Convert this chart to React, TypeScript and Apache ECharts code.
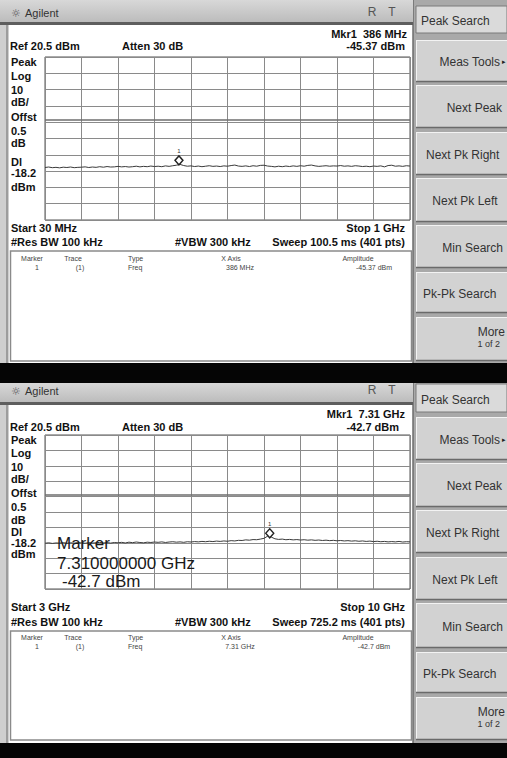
import React, { useEffect, useRef } from "react";
import * as echarts from "echarts";

// ---------- data ----------
const topSpanMHz = [30, 1000];
const bottomSpanGHz = [3, 10];
const refLevelDbm = 20.5;
const bottomLevelDbm = -79.5;
const displayLineDbm = -18.2;
const topMarker = [386, -45.37];
const bottomMarker = [7.31, -42.7];

const topTraceDbm = [
  -47.3, -47.0, -47.4, -47.2, -47.5, -47.1, -47.3, -47.0, -47.4, -47.2,
  -47.1, -46.9, -47.3, -47.0, -47.2, -46.8, -47.1, -46.7, -47.0, -46.9,
  -46.6, -46.9, -46.7, -47.0, -46.8, -46.5, -46.9, -46.6, -46.8, -46.4,
  -46.7, -46.5, -46.8, -46.3, -46.6, -46.2, -45.9, -45.4, -46.1, -46.5,
  -46.3, -46.7, -46.4, -46.8, -46.5, -46.2, -46.6, -46.4, -46.7, -46.3,
  -46.5, -46.1, -45.8, -46.4, -46.6, -46.3, -46.7, -46.2, -46.5, -46.0,
  -45.9, -46.4, -46.6, -46.9, -46.5, -46.8, -46.4, -46.7, -46.3, -46.6,
  -46.2, -46.5, -46.0, -45.8, -46.3, -46.6, -46.4, -46.2, -46.5, -46.3,
  -46.4, -46.1, -46.5, -46.3, -46.6, -46.2, -46.4, -46.7, -46.5, -46.8,
  -46.4, -46.6, -46.3, -46.9, -46.1, -45.9, -46.5, -46.3, -46.6, -46.2,
  -46.4,
];

const bottomTraceDbm = [
  -49.8, -49.5, -49.9, -49.6, -49.7, -49.4, -49.8, -49.5, -49.7, -49.3,
  -49.6, -49.8, -49.4, -49.7, -49.5, -49.2, -49.6, -49.4, -49.7, -49.3,
  -49.5, -49.2, -49.6, -49.1, -49.4, -49.0, -49.3, -49.5, -49.1, -49.3,
  -49.0, -49.2, -48.9, -49.3, -49.0, -48.8, -49.1, -48.9, -49.2, -48.8,
  -49.0, -48.7, -48.9, -48.6, -48.8, -48.5, -48.7, -48.4, -48.6, -48.3,
  -48.5, -48.1, -48.3, -47.9, -48.0, -47.6, -47.8, -47.4, -47.5, -47.1,
  -46.6, -45.2, -45.8, -46.9, -47.3, -47.1, -47.5, -47.3, -47.6, -47.4,
  -47.7, -47.5, -47.8, -47.6, -47.9, -47.7, -48.0, -47.8, -48.1, -47.9,
  -48.2, -48.0, -48.3, -48.1, -48.4, -48.2, -48.5, -48.3, -48.6, -48.4,
  -48.7, -48.5, -48.8, -48.6, -48.9, -48.7, -48.9, -48.6, -49.0, -48.8,
  -48.9,
];

const sideLabels = ["Peak", "Log", "10", "dB/", "Offst", "0.5", "dB", "Dl", "-18.2", "dBm"];
const softKeyLabels = ["Meas Tools", "Next Peak", "Next Pk Right", "Next Pk Left", "Min Search", "Pk-Pk Search", "More"];
const tableHeaders = ["Marker", "Trace", "Type", "X Axis", "Amplitude"];

const topTexts = {
  mkr: "Mkr1  386 MHz",
  amp: "-45.37 dBm",
  ref: "Ref 20.5 dBm",
  atten: "Atten 30 dB",
  start: "Start 30 MHz",
  stop: "Stop 1 GHz",
  rbw: "#Res BW 100 kHz",
  vbw: "#VBW 300 kHz",
  sweep: "Sweep 100.5 ms (401 pts)",
  row: ["1", "(1)", "Freq", "386 MHz", "-45.37 dBm"],
};
const bottomTexts = {
  mkr: "Mkr1  7.31 GHz",
  amp: "-42.7 dBm",
  ref: "Ref 20.5 dBm",
  atten: "Atten 30 dB",
  start: "Start 3 GHz",
  stop: "Stop 10 GHz",
  rbw: "#Res BW 100 kHz",
  vbw: "#VBW 300 kHz",
  sweep: "Sweep 725.2 ms (401 pts)",
  row: ["1", "(1)", "Freq", "7.31 GHz", "-42.7 dBm"],
};
const overlayLines = ["Marker", "7.310000000 GHz", "-42.7 dBm"];

// ---------- layout ----------
const FONT = '"Liberation Sans", Arial, sans-serif';

const topLayout = {
  top: 0, bottom: 363, titleH: 22, titleY: 13,
  mkrY: 34, ampY: 46, ampRight: 405, mkrRight: 407,
  gridTop: 57, gridH: 163,
  labelYs: [62, 76, 90, 102, 117, 131, 143, 162, 173, 187],
  startY: 228, resY: 242, tableTop: 251, tableBottom: 361, headY: 258, rowY: 267,
  header: [6, 33], headerY: 21,
  keys: [[40, 82], [85, 128], [132, 175], [178, 222], [225, 268], [272, 313], [317, 361]],
};
const bottomLayout = {
  top: 383, bottom: 743, titleH: 19, titleY: 391,
  mkrY: 414, ampY: 427, ampRight: 399, mkrRight: 405,
  gridTop: 435, gridH: 154,
  labelYs: [440, 453, 467, 479, 493, 507, 520, 532, 543, 554],
  startY: 607, resY: 622, tableTop: 631, tableBottom: 740, headY: 637, rowY: 646,
  header: [384, 412], headerY: 400,
  keys: [[417, 460], [463, 507], [510, 553], [557, 600], [603, 648], [652, 693], [697, 740]],
};

function txt(x, y, text, o: any = {}) {
  const size = o.size ?? 11;
  const weight = o.weight ?? "bold";
  const color = o.color ?? "#111";
  const align = o.align ?? "left";
  return {
    type: "text",
    x,
    y,
    z: o.z ?? 10,
    silent: true,
    style: {
      text,
      fill: color,
      fontSize: size,
      fontWeight: weight,
      fontFamily: o.family ?? FONT,
      align,
      verticalAlign: "middle",
      textAlign: align,
      textVerticalAlign: "middle",
    },
  };
}
function rect(x, y, w, h, fill, z = -5, stroke?: string, lw?: number) {
  return {
    type: "rect",
    z,
    silent: true,
    shape: { x, y, width: w, height: h },
    style: stroke ? { fill, stroke, lineWidth: lw ?? 1 } : { fill },
  };
}
function seg(x1, y1, x2, y2, color, w = 1, z = -4) {
  return { type: "line", z, silent: true, shape: { x1, y1, x2, y2 }, style: { stroke: color, lineWidth: w } };
}

function panelGraphics(L, T) {
  const els: any[] = [];
  const h = L.bottom - L.top;
  // frame + white
  els.push(rect(0, L.top, 9, h, "#cfcfcf", -7));
  els.push(rect(9, L.top, 404, h, "#ffffff", -7));
  els.push(seg(7, L.top, 7, L.bottom, "#8c8c8c", 1.5, -6));
  // title bar
  els.push({
    type: "rect", z: -5, silent: true,
    shape: { x: 0, y: L.top, width: 413, height: L.titleH },
    style: {
      fill: new echarts.graphic.LinearGradient(0, 0, 0, 1, [
        { offset: 0, color: "#d8d8d8" },
        { offset: 1, color: "#bcbcbc" },
      ]),
    },
  });
  els.push(rect(0, L.top + L.titleH, 413, 3, "#5e5e5e", -5));
  els.push(txt(16, L.titleY, "☼", { size: 11, weight: "normal", color: "#555", family: '"DejaVu Sans", sans-serif', align: "center" }));
  els.push(txt(25, L.titleY, "Agilent", { size: 11, weight: "normal", color: "#333" }));
  els.push(txt(372, L.titleY - 1, "R", { size: 12, weight: "normal", color: "#555", align: "center" }));
  els.push(txt(392, L.titleY - 1, "T", { size: 12, weight: "normal", color: "#555", align: "center" }));
  // right column
  els.push(rect(413, L.top, 94, h, "#a9a9a9", -7));
  els.push(seg(413, L.top, 413, L.bottom, "#6c6c6c", 1.5, -6));
  // header key
  els.push(rect(416, L.header[0], 91, L.header[1] - L.header[0], "#dadada", -5, "#7a7a7a", 1));
  els.push(txt(421, L.headerY, "Peak Search", { size: 12, weight: "normal", color: "#333" }));
  // soft keys
  L.keys.forEach((k, i) => {
    const [y0, y1] = k;
    els.push(rect(416, y0, 91, y1 - y0, "#d2d2d2", -5));
    els.push(seg(416, y0 + 0.5, 507, y0 + 0.5, "#f3f3f3", 1, -4));
    els.push(seg(416.5, y0, 416.5, y1, "#f3f3f3", 1, -4));
    els.push(seg(416, y1 - 0.5, 507, y1 - 0.5, "#6a6a6a", 1.5, -4));
    const mid = (y0 + y1) / 2 + 1;
    const label = softKeyLabels[i];
    const o = { size: 12, weight: "normal", color: "#333" };
    if (i === 0) {
      els.push(txt(500, mid, label, { ...o, align: "right" }));
      els.push(txt(502, mid, "▸", { ...o, size: 7, family: '"DejaVu Sans", sans-serif', color: "#222" }));
    } else if (i === 1) els.push(txt(502, mid, label, { ...o, align: "right" }));
    else if (i === 2) els.push(txt(426, mid, label, o));
    else if (i === 3) els.push(txt(465, mid, label, { ...o, align: "center" }));
    else if (i === 4) els.push(txt(503, mid, label, { ...o, align: "right" }));
    else if (i === 5) els.push(txt(423, mid, label, o));
    else {
      els.push(txt(505, y0 + 15, label, { ...o, align: "right" }));
      els.push(txt(500, y0 + 27, "1 of 2", { ...o, size: 9, align: "right" }));
    }
  });
  // header texts
  els.push(txt(L.mkrRight, L.mkrY, T.mkr, { align: "right" }));
  els.push(txt(L.ampRight, L.ampY, T.amp, { align: "right" }));
  els.push(txt(10, L.ampY, T.ref));
  els.push(txt(122, L.ampY, T.atten));
  sideLabels.forEach((s, i) => els.push(txt(11, L.labelYs[i], s)));
  els.push(txt(11, L.startY, T.start));
  els.push(txt(405, L.startY, T.stop, { align: "right" }));
  els.push(txt(11, L.resY, T.rbw));
  els.push(txt(175, L.resY, T.vbw));
  els.push(txt(405, L.resY, T.sweep, { align: "right" }));
  // table
  els.push(rect(10.5, L.tableTop, 401, L.tableBottom - L.tableTop, "#ffffff", -4, "#8a8a8a", 1.5));
  const hx = [32, 73, 128, 231, 358];
  const ha = ["center", "center", "left", "center", "center"];
  tableHeaders.forEach((s, i) => els.push(txt(hx[i], L.headY, s, { size: 7, weight: "normal", color: "#444", align: ha[i] })));
  const rx = [37, 80, 128, 240, 374];
  T.row.forEach((s, i) => els.push(txt(rx[i], L.rowY, s, { size: 7, weight: "normal", color: "#444", align: ha[i] })));
  return els;
}

function traceData(vals, span) {
  const step = (span[1] - span[0]) / (vals.length - 1);
  return vals.map((v, i) => [span[0] + i * step, v]);
}

function divAxis(gridIndex, isX) {
  return {
    type: "value",
    gridIndex,
    min: 0,
    max: 10,
    interval: 1,
    position: isX ? "bottom" : "left",
    axisLine: { show: false },
    axisTick: { show: false },
    axisLabel: { show: false },
    splitLine: { show: true, lineStyle: { color: "#8a8a8a", width: 1 } },
  };
}

function traceSeries(idx, vals, span, marker, offsetY) {
  return {
    type: "line",
    xAxisIndex: idx,
    yAxisIndex: idx,
    data: traceData(vals, span),
    showSymbol: false,
    symbol: "none",
    silent: true,
    z: 3,
    lineStyle: { color: "#3a3a3a", width: 1 },
    markLine: {
      silent: true,
      symbol: "none",
      label: { show: false },
      lineStyle: { color: "#6e6e6e", width: 1.5, type: "solid" },
      data: [{ yAxis: displayLineDbm }],
    },
    markPoint: {
      silent: true,
      symbol: "diamond",
      symbolSize: [8, 9],
      symbolOffset: [0, offsetY],
      itemStyle: { color: "#ffffff", borderColor: "#222", borderWidth: 1.4 },
      label: { show: true, formatter: "1", position: "top", distance: 1, fontSize: 6, color: "#333", fontFamily: FONT },
      data: [{ coord: marker }],
    },
  };
}

export default function App() {
  const ref = useRef<HTMLDivElement>(null);
  useEffect(() => {
    if (!ref.current) return;
    const chart = echarts.init(ref.current, null, { renderer: "svg" });
    const graphicEls = [
      ...panelGraphics(topLayout, topTexts),
      ...panelGraphics(bottomLayout, bottomTexts),
      rect(0, 363, 507, 20, "#050505", -3),
      rect(0, 743, 507, 15, "#050505", -3),
      ...overlayLines.map((s, i) =>
        txt(i === 2 ? 62 : 57, [543, 563, 581][i], s, { size: 17, weight: "normal", color: "#1a1a1a", z: 100 })
      ),
    ];
    chart.setOption({
      animation: false,
      backgroundColor: "#c6c6c6",
      grid: [
        { left: 45, top: topLayout.gridTop, width: 365, height: topLayout.gridH, show: true, borderColor: "#555", borderWidth: 1, backgroundColor: "transparent" },
        { left: 45, top: bottomLayout.gridTop, width: 365, height: bottomLayout.gridH, show: true, borderColor: "#555", borderWidth: 1, backgroundColor: "transparent" },
      ],
      xAxis: [
        { type: "value", gridIndex: 0, min: topSpanMHz[0], max: topSpanMHz[1], show: false },
        { type: "value", gridIndex: 1, min: bottomSpanGHz[0], max: bottomSpanGHz[1], show: false },
        divAxis(0, true),
        divAxis(1, true),
      ],
      yAxis: [
        { type: "value", gridIndex: 0, min: bottomLevelDbm, max: refLevelDbm, show: false },
        { type: "value", gridIndex: 1, min: bottomLevelDbm, max: refLevelDbm, show: false },
        divAxis(0, false),
        divAxis(1, false),
      ],
      graphic: { elements: graphicEls },
      series: [
        traceSeries(0, topTraceDbm, topSpanMHz, topMarker, -4),
        traceSeries(1, bottomTraceDbm, bottomSpanGHz, bottomMarker, 1),
      ],
    });
    return () => chart.dispose();
  }, []);
  return <div ref={ref} style={{ position: "absolute", left: 0, top: 0, width: 507, height: 758 }} />;
}
